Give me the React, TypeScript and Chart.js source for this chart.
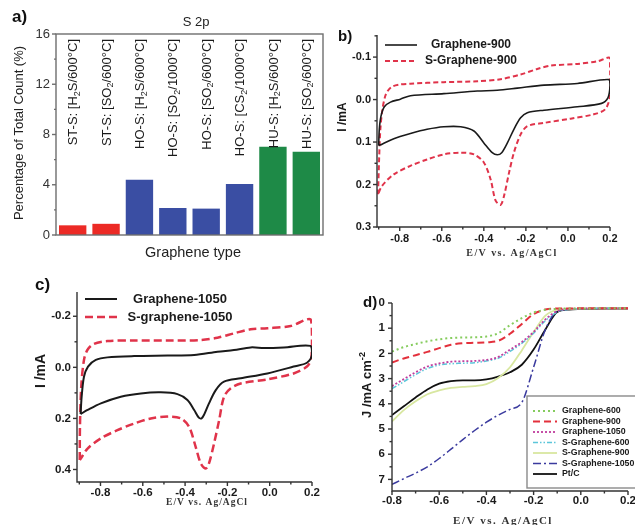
import React, { useEffect, useRef } from "react";
import { Chart, registerables } from "chart.js";
Chart.register(...registerables);

const SANS = "'Liberation Sans', Arial, Helvetica, sans-serif";
const SERIF = "'Liberation Serif', 'Times New Roman', serif";

// ---------- Panel a: S 2p bar chart ----------
const barCategories = [
  "ST-S: [H₂S/600°C]",
  "ST-S: [SO₂/600°C]",
  "HO-S: [H₂S/600°C]",
  "HO-S: [SO₂/1000°C]",
  "HO-S: [SO₂/600°C]",
  "HO-S: [CS₂/1000°C]",
  "HU-S: [H₂S/600°C]",
  "HU-S: [SO₂/600°C]",
];
const barValues = [0.77, 0.89, 4.4, 2.15, 2.1, 4.05, 7.02, 6.63];
const barColors = ["#ec2a25", "#ec2a25", "#3a4ea3", "#3a4ea3", "#3a4ea3", "#3a4ea3", "#1e8a47", "#1e8a47"];
const barYTicks = [0, 4, 8, 12, 16];
const barYMinorTicks = [2, 6, 10, 14];

// ---------- shared CV x ticks ----------
const cvXTicks = [-0.8, -0.6, -0.4, -0.2, 0, 0.2];
const cvXMinorTicks = [-0.9, -0.7, -0.5, -0.3, -0.1, 0.1];

// ---------- Panel b ----------
const g900E = [-0.9, -0.897, -0.889, -0.873, -0.844, -0.797, -0.749, -0.59, -0.431, -0.336, -0.241, -0.114, 0.045, 0.195, 0.2, 0.19, 0.16, 0.045, -0.114, -0.193, -0.225, -0.257, -0.288, -0.315, -0.336, -0.36, -0.4, -0.447, -0.51, -0.59, -0.67, -0.749, -0.828, -0.884, -0.9];
const g900I = [0.108, 0.07, 0.039, 0.017, 0.006, -0.001, -0.009, -0.014, -0.02, -0.022, -0.027, -0.034, -0.038, -0.047, -0.031, -0.004, 0.009, 0.017, 0.025, 0.031, 0.043, 0.07, 0.102, 0.125, 0.13, 0.125, 0.102, 0.074, 0.064, 0.064, 0.07, 0.08, 0.092, 0.105, 0.108];
const sg900E = [-0.903, -0.898, -0.892, -0.882, -0.866, -0.841, -0.804, -0.749, -0.59, -0.431, -0.32, -0.225, -0.146, -0.082, 0.045, 0.14, 0.199, 0.201, 0.2, 0.177, 0.12, 0.013, -0.114, -0.193, -0.225, -0.257, -0.28, -0.304, -0.32, -0.344, -0.368, -0.4, -0.447, -0.51, -0.59, -0.67, -0.749, -0.828, -0.884, -0.903];
const sg900I = [0.223, 0.141, 0.07, 0.023, -0.012, -0.029, -0.035, -0.0375, -0.041, -0.043, -0.048, -0.059, -0.072, -0.08, -0.084, -0.09, -0.098, -0.06, -0.008, 0.023, 0.035, 0.045, 0.055, 0.0625, 0.082, 0.125, 0.172, 0.227, 0.248, 0.238, 0.1875, 0.148, 0.129, 0.125, 0.129, 0.141, 0.156, 0.176, 0.203, 0.223];
const bYTicks = [-0.1, 0, 0.1, 0.2, 0.3];
const bYMinorTicks = [-0.15, -0.05, 0.05, 0.15, 0.25];

// ---------- Panel c ----------
const g1050E = [-0.894, -0.889, -0.878, -0.859, -0.822, -0.767, -0.641, -0.483, -0.357, -0.247, -0.169, -0.09, -0.027, 0.067, 0.193, 0.2, 0.176, 0.113, -0.011, -0.137, -0.216, -0.255, -0.287, -0.31, -0.322, -0.335, -0.357, -0.389, -0.436, -0.515, -0.609, -0.704, -0.798, -0.861, -0.894];
const g1050I = [0.183, 0.115, 0.037, -0.003, -0.029, -0.039, -0.044, -0.046, -0.048, -0.061, -0.068, -0.078, -0.076, -0.078, -0.084, -0.048, -0.018, -0.003, 0.024, 0.043, 0.056, 0.089, 0.141, 0.185, 0.2, 0.197, 0.167, 0.128, 0.105, 0.098, 0.102, 0.115, 0.141, 0.167, 0.183];
const sg1050E = [-0.898, -0.897, -0.891, -0.878, -0.862, -0.831, -0.767, -0.641, -0.483, -0.326, -0.247, -0.169, -0.09, -0.011, 0.099, 0.193, 0.2, 0.197, 0.176, 0.113, -0.011, -0.137, -0.184, -0.216, -0.239, -0.263, -0.287, -0.302, -0.326, -0.35, -0.381, -0.42, -0.483, -0.562, -0.641, -0.72, -0.798, -0.861, -0.893, -0.898];
const sg1050I = [0.363, 0.233, 0.076, -0.029, -0.068, -0.092, -0.103, -0.105, -0.105, -0.107, -0.116, -0.133, -0.149, -0.153, -0.162, -0.188, -0.12, -0.035, -0.003, 0.024, 0.047, 0.063, 0.082, 0.115, 0.207, 0.298, 0.376, 0.396, 0.376, 0.311, 0.233, 0.2, 0.193, 0.2, 0.22, 0.246, 0.278, 0.318, 0.357, 0.363];
const cYTicks = [-0.2, 0, 0.2, 0.4];
const cYMinorTicks = [-0.3, -0.1, 0.1, 0.3];

// ---------- Panel d: LSV ----------
const lsvE = [-0.8, -0.75, -0.7, -0.65, -0.6, -0.55, -0.5, -0.45, -0.4, -0.35, -0.3, -0.25, -0.2, -0.15, -0.1, -0.05, 0, 0.1, 0.2];
const g600J = [1.93, 1.75, 1.63, 1.52, 1.44, 1.39, 1.37, 1.36, 1.33, 1.2, 0.88, 0.6, 0.38, 0.27, 0.23, 0.22, 0.22, 0.21, 0.21];
const g900J = [2.36, 2.2, 2.07, 1.94, 1.79, 1.66, 1.6, 1.58, 1.56, 1.5, 1.22, 0.83, 0.44, 0.26, 0.22, 0.22, 0.21, 0.21, 0.21];
const g1050J = [3.3, 3.02, 2.75, 2.52, 2.4, 2.33, 2.31, 2.3, 2.26, 2.14, 1.85, 1.55, 1.15, 0.65, 0.32, 0.23, 0.22, 0.21, 0.21];
const sg600J = [3.4, 3.12, 2.84, 2.6, 2.46, 2.41, 2.39, 2.37, 2.3, 2.19, 1.92, 1.6, 1.2, 0.7, 0.36, 0.25, 0.22, 0.21, 0.21];
const sg900J = [4.7, 4.25, 3.9, 3.62, 3.47, 3.37, 3.33, 3.3, 3.22, 2.98, 2.55, 1.88, 1.15, 0.5, 0.27, 0.24, 0.22, 0.21, 0.21];
const sg1050J = [7.2, 6.97, 6.75, 6.5, 6.17, 5.8, 5.42, 5.06, 4.73, 4.45, 4.22, 3.95, 2.55, 1.05, 0.33, 0.25, 0.23, 0.22, 0.21];
const ptcJ = [4.45, 4.1, 3.75, 3.43, 3.2, 3.1, 3.07, 3.07, 3.03, 2.92, 2.75, 2.45, 1.85, 1.05, 0.36, 0.26, 0.24, 0.22, 0.22];
const dXTicks = [-0.8, -0.6, -0.4, -0.2, 0, 0.2];
const dXMinorTicks = [-0.7, -0.5, -0.3, -0.1, 0.1];
const dYTicks = [0, 1, 2, 3, 4, 5, 6, 7];
const dYMinorTicks = [0.5, 1.5, 2.5, 3.5, 4.5, 5.5, 6.5];

// ---------- helpers ----------
const pts = (xs: number[], ys: number[]) => xs.map((x, i) => ({ x, y: ys[i] }));
const fmt = (v: number, d: number) => (Math.abs(v) < 1e-9 ? 0 : v).toFixed(d);

function splitRich(text: string) {
  const out: { t: string; k: string }[] = [];
  for (const ch of text) {
    let k = "n";
    let t = ch;
    if (ch === "₂") { k = "sub"; t = "2"; }
    else if (ch === "²") { k = "sup"; t = "2"; }
    else if (ch === "⁻") { k = "sup"; t = "-"; }
    const last = out[out.length - 1];
    if (last && last.k === k) last.t += t;
    else out.push({ t, k });
  }
  return out;
}

type TextSpec = {
  text: string; x: number; y: number; size: number; weight?: string; family?: string;
  color?: string; align?: "left" | "center" | "right"; rotate?: number; ls?: number;
};

function drawRich(ctx: any, s: TextSpec, ox: number, oy: number) {
  const fam = s.family || SANS;
  const weight = s.weight || "normal";
  const parts = splitRich(s.text);
  ctx.save();
  ctx.translate(s.x - ox, s.y - oy);
  if (s.rotate) ctx.rotate(s.rotate);
  ctx.letterSpacing = (s.ls || 0) + "px";
  ctx.textAlign = "left";
  ctx.textBaseline = "middle";
  ctx.fillStyle = s.color || "#222";
  const font = (k: string) => `${weight} ${k === "n" ? s.size : Math.round(s.size * 7) / 10}px ${fam}`;
  const widths = parts.map((p) => { ctx.font = font(p.k); return ctx.measureText(p.t).width; });
  const total = widths.reduce((a, b) => a + b, 0);
  let cx = s.align === "center" ? -total / 2 : s.align === "right" ? -total : 0;
  parts.forEach((p, i) => {
    ctx.font = font(p.k);
    const dy = p.k === "sub" ? s.size * 0.28 : p.k === "sup" ? -s.size * 0.32 : 0;
    ctx.fillText(p.t, cx, dy);
    cx += widths[i];
  });
  ctx.letterSpacing = "0px";
  ctx.restore();
}

type DecorSpec = {
  ox: number; oy: number;
  frame?: boolean; axes?: boolean; axisColor?: string;
  ticks?: { axis: string; values: number[]; len: number }[];
  texts?: TextSpec[];
  barLabels?: { y: number; size: number };
  legend?: {
    x1: number; x2: number; ys: number[]; textX: number; align: "left" | "center";
    size: number; box?: { l: number; t: number; r: number; b: number };
  };
};

function decor(spec: DecorSpec) {
  return {
    id: "decor",
    afterDraw(chart: any) {
      const ctx = chart.ctx;
      const a = chart.chartArea;
      const { ox, oy } = spec;
      const col = spec.axisColor || "#333";
      ctx.save();
      ctx.strokeStyle = col;
      ctx.lineWidth = 1.4;
      ctx.setLineDash([]);
      if (spec.frame) ctx.strokeRect(a.left, a.top, a.right - a.left, a.bottom - a.top);
      if (spec.axes) {
        ctx.beginPath();
        ctx.moveTo(a.left, a.top);
        ctx.lineTo(a.left, a.bottom);
        ctx.lineTo(a.right, a.bottom);
        ctx.stroke();
      }
      (spec.ticks || []).forEach((t) => {
        const sc = chart.scales[t.axis];
        t.values.forEach((v) => {
          if (v < Math.min(sc.min, sc.max) - 1e-9 || v > Math.max(sc.min, sc.max) + 1e-9) return;
          const p = sc.getPixelForValue(v);
          ctx.beginPath();
          if (t.axis === "x") { ctx.moveTo(p, a.bottom); ctx.lineTo(p, a.bottom + t.len); }
          else { ctx.moveTo(a.left, p); ctx.lineTo(a.left - t.len, p); }
          ctx.stroke();
        });
      });
      ctx.restore();
      if (spec.barLabels) {
        const sx = chart.scales.x;
        (chart.data.labels as string[]).forEach((lab, i) => {
          drawRich(ctx, { text: lab, x: sx.getPixelForValue(i) + ox + 1, y: spec.barLabels!.y, size: spec.barLabels!.size, color: "#1a1a1a", align: "right", rotate: -Math.PI / 2 }, ox, oy);
        });
      }
      (spec.texts || []).forEach((s) => drawRich(ctx, s, ox, oy));
      if (spec.legend) {
        const L = spec.legend;
        if (L.box) {
          ctx.save();
          ctx.fillStyle = "#fff";
          ctx.fillRect(L.box.l - ox, L.box.t - oy, L.box.r - L.box.l, L.box.b - L.box.t);
          ctx.strokeStyle = "#8a8a8a";
          ctx.lineWidth = 1.4;
          ctx.strokeRect(L.box.l - ox, L.box.t - oy, L.box.r - L.box.l, L.box.b - L.box.t);
          ctx.restore();
        }
        chart.data.datasets.forEach((ds: any, i: number) => {
          const y = L.ys[i];
          ctx.save();
          ctx.strokeStyle = ds.borderColor;
          ctx.lineWidth = ds.borderWidth;
          ctx.setLineDash(ds.borderDash || []);
          ctx.beginPath();
          ctx.moveTo(L.x1 - ox, y - oy);
          ctx.lineTo(L.x2 - ox, y - oy);
          ctx.stroke();
          ctx.restore();
          drawRich(ctx, { text: ds.label, x: L.textX, y, size: L.size, weight: "bold", color: "#1a1a1a", align: L.align }, ox, oy);
        });
      }
    },
  };
}

type Box = { x: number; y: number; w: number; h: number };

function linearScale(o: {
  min: number; max: number; reverse?: boolean; ticks: number[]; dec: number;
  size: number; weight?: string; pad: number; fitW?: number; fitH?: number; color?: string;
}) {
  return {
    type: "linear",
    min: o.min,
    max: o.max,
    reverse: !!o.reverse,
    bounds: "data",
    grid: { display: false, drawTicks: false },
    border: { display: false },
    ticks: {
      autoSkip: false,
      maxRotation: 0,
      padding: o.pad,
      color: o.color || "#1a1a1a",
      font: { family: SANS, size: o.size, weight: o.weight || "bold" },
      callback: (v: number) => fmt(v, o.dec),
    },
    afterBuildTicks: (ax: any) => { ax.ticks = o.ticks.map((v) => ({ value: v })); },
    afterFit: (ax: any) => {
      if (o.fitW !== undefined) { ax.width = o.fitW; ax.paddingTop = 0; ax.paddingBottom = 0; }
      if (o.fitH !== undefined) { ax.height = o.fitH; ax.paddingLeft = 0; ax.paddingRight = 0; }
    },
  };
}

function baseOptions(padTop: number, padRight: number) {
  return {
    responsive: false,
    animation: false,
    devicePixelRatio: 1,
    events: [],
    layout: { autoPadding: false, padding: { left: 0, top: padTop, right: padRight, bottom: 0 } },
    plugins: { legend: { display: false }, tooltip: { enabled: false }, title: { display: false } },
  };
}

// ---------- panel configs ----------
const boxA: Box = { x: 0, y: 0, w: 330, h: 265 };
const boxB: Box = { x: 325, y: 20, w: 310, h: 250 };
const boxC: Box = { x: 0, y: 270, w: 330, h: 255 };
const boxD: Box = { x: 330, y: 275, w: 305, h: 250 };

function configA() {
  return {
    type: "bar",
    data: {
      labels: barCategories,
      datasets: [{ label: "S 2p", data: barValues, backgroundColor: barColors, borderWidth: 0, barPercentage: 0.82, categoryPercentage: 1 }],
    },
    options: {
      ...baseOptions(34, 7),
      scales: {
        x: {
          type: "category",
          grid: { display: false, drawTicks: false },
          border: { display: false },
          ticks: { display: false },
          afterFit: (ax: any) => { ax.height = 30; ax.paddingLeft = 0; ax.paddingRight = 0; },
        },
        y: linearScale({ min: 0, max: 16, ticks: barYTicks, dec: 0, size: 13, weight: "normal", pad: 6, fitW: 56, color: "#333" }),
      },
    },
    plugins: [
      decor({
        ox: boxA.x, oy: boxA.y, frame: true, axisColor: "#6e6e6e",
        ticks: [{ axis: "y", values: barYTicks, len: 4 }, { axis: "y", values: barYMinorTicks, len: 2 }],
        barLabels: { y: 39, size: 13 },
        texts: [
          { text: "a)", x: 12, y: 17, size: 17, weight: "bold", color: "#111", align: "left" },
          { text: "S 2p", x: 196, y: 22, size: 13, color: "#222", align: "center" },
          { text: "Percentage of Total Count (%)", x: 19, y: 133, size: 13, color: "#222", align: "center", rotate: -Math.PI / 2 },
          { text: "Graphene type", x: 193, y: 253, size: 14.5, color: "#222", align: "center" },
        ],
      }),
    ],
  };
}

function cvDataset(label: string, xs: number[], ys: number[], color: string, width: number, dash: number[]) {
  return {
    label, data: pts(xs, ys), showLine: true, borderColor: color, backgroundColor: color,
    borderWidth: width, borderDash: dash, pointRadius: 0, tension: 0.3, fill: false,
  };
}

function configB() {
  return {
    type: "scatter",
    data: {
      datasets: [
        cvDataset("Graphene-900", g900E, g900I, "#1a1a1a", 1.6, []),
        cvDataset("S-Graphene-900", sg900E, sg900I, "#e0334a", 2, [5, 3]),
      ],
    },
    options: {
      ...baseOptions(15, 25),
      scales: {
        x: linearScale({ min: -0.908, max: 0.2, ticks: cvXTicks, dec: 1, size: 11, pad: 5, fitH: 43 }),
        y: linearScale({ min: -0.152, max: 0.3, reverse: true, ticks: bYTicks, dec: 1, size: 11, pad: 6, fitW: 52 }),
      },
    },
    plugins: [
      decor({
        ox: boxB.x, oy: boxB.y, axes: true,
        ticks: [
          { axis: "x", values: cvXTicks, len: 4 }, { axis: "x", values: cvXMinorTicks, len: 2.5 },
          { axis: "y", values: bYTicks, len: 4 }, { axis: "y", values: bYMinorTicks, len: 2.5 },
        ],
        texts: [
          { text: "b)", x: 338, y: 37, size: 15, weight: "bold", color: "#111", align: "left" },
          { text: "I /mA", x: 343, y: 117, size: 12, weight: "bold", color: "#1a1a1a", align: "center", rotate: -Math.PI / 2 },
          { text: "E/V vs. Ag/AgCl", x: 512, y: 253, size: 10, weight: "bold", family: SERIF, color: "#333", align: "center", ls: 1.4 },
        ],
        legend: { x1: 385, x2: 417, ys: [45, 61], textX: 471, align: "center", size: 12 },
      }),
    ],
  };
}

function configC() {
  return {
    type: "scatter",
    data: {
      datasets: [
        cvDataset("Graphene-1050", g1050E, g1050I, "#1a1a1a", 2, []),
        cvDataset("S-graphene-1050", sg1050E, sg1050I, "#e0334a", 2.5, [8, 4]),
      ],
    },
    options: {
      ...baseOptions(22, 18),
      scales: {
        x: linearScale({ min: -0.911, max: 0.2, ticks: cvXTicks, dec: 1, size: 11.5, pad: 4, fitH: 43 }),
        y: linearScale({ min: -0.295, max: 0.449, reverse: true, ticks: cYTicks, dec: 1, size: 11.5, pad: 6, fitW: 77 }),
      },
    },
    plugins: [
      decor({
        ox: boxC.x, oy: boxC.y, axes: true,
        ticks: [
          { axis: "x", values: cvXTicks, len: 4 }, { axis: "x", values: cvXMinorTicks, len: 2.5 },
          { axis: "y", values: cYTicks, len: 4 }, { axis: "y", values: cYMinorTicks, len: 2.5 },
        ],
        texts: [
          { text: "c)", x: 35, y: 285, size: 17, weight: "bold", color: "#111", align: "left" },
          { text: "I /mA", x: 41, y: 371, size: 14, weight: "bold", color: "#1a1a1a", align: "center", rotate: -Math.PI / 2 },
          { text: "E/V vs. Ag/AgCl", x: 207, y: 503, size: 9.5, weight: "bold", family: SERIF, color: "#333", align: "center", ls: 1 },
        ],
        legend: { x1: 85, x2: 117, ys: [299, 317], textX: 180, align: "center", size: 13 },
      }),
    ],
  };
}

function lsvDataset(label: string, ys: number[], color: string, width: number, dash: number[]) {
  return {
    label, data: pts(lsvE, ys), showLine: true, borderColor: color, backgroundColor: color,
    borderWidth: width, borderDash: dash, pointRadius: 0, cubicInterpolationMode: "monotone", fill: false,
  };
}

function configD() {
  return {
    type: "scatter",
    data: {
      datasets: [
        lsvDataset("Graphene-600", g600J, "#86cc5e", 2, [2, 3]),
        lsvDataset("Graphene-900", g900J, "#e3303c", 2, [7, 4]),
        lsvDataset("Graphene-1050", g1050J, "#c03d9e", 1.8, [2, 2]),
        lsvDataset("S-Graphene-600", sg600J, "#5cc6da", 1.5, [5, 2, 1.5, 2, 1.5, 2]),
        lsvDataset("S-Graphene-900", sg900J, "#d8e7a0", 1.8, []),
        lsvDataset("S-Graphene-1050", sg1050J, "#3a3a9e", 1.5, [8, 3, 2, 3]),
        lsvDataset("Pt/C", ptcJ, "#111111", 1.8, []),
      ],
    },
    options: {
      ...baseOptions(28, 7),
      scales: {
        x: linearScale({ min: -0.8, max: 0.2, ticks: dXTicks, dec: 1, size: 11.5, pad: 3, fitH: 34 }),
        y: linearScale({ min: 0, max: 7.46, reverse: true, ticks: dYTicks, dec: 0, size: 11.5, pad: 7, fitW: 62 }),
      },
    },
    plugins: [
      decor({
        ox: boxD.x, oy: boxD.y, axes: true,
        ticks: [
          { axis: "x", values: dXTicks, len: 4 }, { axis: "x", values: dXMinorTicks, len: 2.5 },
          { axis: "y", values: dYTicks, len: 4 }, { axis: "y", values: dYMinorTicks, len: 2.5 },
        ],
        texts: [
          { text: "d)", x: 363, y: 302.5, size: 15, weight: "bold", color: "#111", align: "left" },
          { text: "J /mA cm⁻²", x: 367, y: 385, size: 13, weight: "bold", color: "#1a1a1a", align: "center", rotate: -Math.PI / 2 },
          { text: "E/V vs. Ag/AgCl", x: 503, y: 521, size: 11, weight: "bold", family: SERIF, color: "#333", align: "center", ls: 1.5 },
        ],
        legend: {
          x1: 533, x2: 557, ys: [411, 421.5, 432, 442.5, 453, 463.5, 474], textX: 562, align: "left", size: 8.8,
          box: { l: 527, t: 396, r: 645, b: 488 },
        },
      }),
    ],
  };
}

function Panel({ box, make }: { box: Box; make: () => any }) {
  const ref = useRef<HTMLCanvasElement>(null);
  useEffect(() => {
    const chart = new Chart(ref.current as HTMLCanvasElement, make());
    return () => chart.destroy();
  }, []);
  return (
    <canvas
      ref={ref}
      width={box.w}
      height={box.h}
      style={{ position: "absolute", left: box.x, top: box.y, width: box.w, height: box.h, display: "block" }}
    />
  );
}

export default function App() {
  return (
    <div style={{ position: "absolute", left: 0, top: 0, width: 635, height: 525, background: "#fff", overflow: "hidden" }}>
      <Panel box={boxA} make={configA} />
      <Panel box={boxC} make={configC} />
      <Panel box={boxB} make={configB} />
      <Panel box={boxD} make={configD} />
    </div>
  );
}
